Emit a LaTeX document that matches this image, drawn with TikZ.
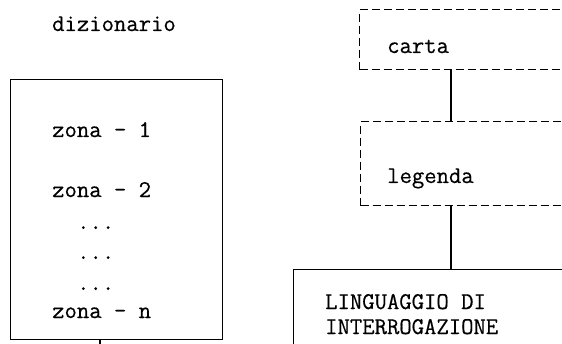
\documentclass[tikz,border=0pt]{standalone}
\usepackage{fontspec}
\setmonofont[FakeBold=0.5]{Latin Modern Mono}
\begin{document}
\begin{tikzpicture}[x=1pt,y=1pt,
  txt/.style={anchor=base west,inner sep=0pt,font=\ttfamily\fontsize{24}{28}\selectfont},
  solidbox/.style={draw,line width=1.1pt},
  dashbox/.style={draw,line width=1.1pt,dash pattern=on 8pt off 4pt},
  conn/.style={draw,line width=1.1pt}]
\useasboundingbox (0,0) rectangle (562,343);
\clip (0,0) rectangle (562,343);
% left dictionary
\node[txt] (diz) at (52,312) {dizionario};
\node[solidbox,minimum width=212pt,minimum height=260pt,inner sep=0pt,anchor=south west] (dict) at (10,3) {};
\node[txt] (z1) at (52,206) {zona - 1};
\node[txt] (z2) at (52,146) {zona - 2};
\node[txt] (d1) at (77,114) {...};
\node[txt] (d2) at (77,84) {...};
\node[txt] (d3) at (77,53) {...};
\node[txt] (zn) at (52,25) {zona - n};
\coordinate (tickend) at (100,-10);
\draw[conn] (dict.south -| tickend) -- (tickend);
% right column
\node[dashbox,minimum width=280pt,minimum height=60pt,inner sep=0pt,anchor=north west] (carta) at (359,334) {};
\node[txt] (tc) at (387,290) {carta};
\node[dashbox,minimum width=280pt,minimum height=84pt,inner sep=0pt,anchor=north west] (leg) at (360,222) {};
\node[txt] (tl) at (387,160) {legenda};
\node[solidbox,minimum width=300pt,minimum height=110pt,inner sep=0pt,anchor=north west] (lang) at (293,74) {};
\node[txt] (tg1) at (325,34) {LINGUAGGIO DI};
\node[txt] (tg2) at (325,9) {INTERROGAZIONE};
\coordinate (cx) at (451,0);
\draw[conn] (carta.south -| cx) -- (leg.north -| cx);
\draw[conn] (leg.south -| cx) -- (lang.north -| cx);
\end{tikzpicture}
\end{document}
